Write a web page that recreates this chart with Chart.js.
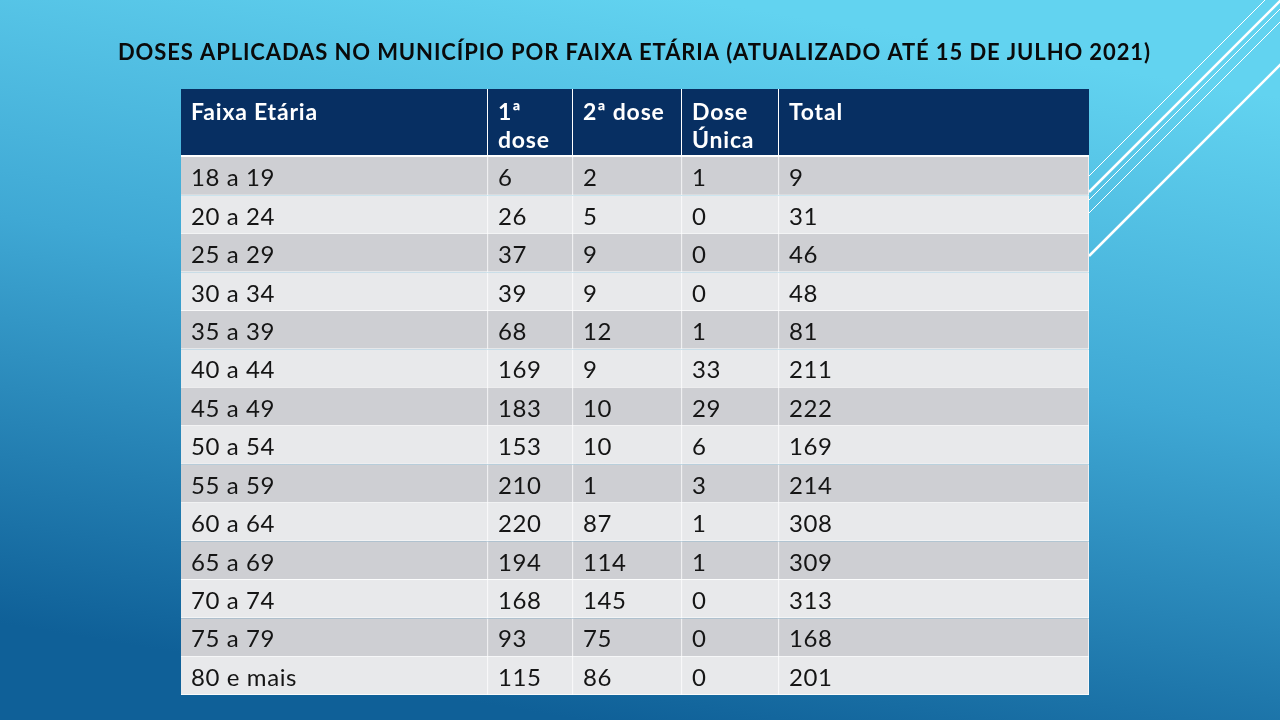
<!DOCTYPE html>
<html lang="pt">
<head>
    <meta charset="UTF-8">
    <title>Doses aplicadas por faixa etária</title>
    <script src="https://cdn.jsdelivr.net/npm/chart.js"></script>
    <style>
        html, body { margin: 0; padding: 0; background: #3aa5d2; }
        canvas { display: block; }
    </style>
</head>
<body>
    <canvas id="tabela" width="1280" height="720"></canvas>
    <script>
        // dados da tabela
        const faixas = ['18 a 19', '20 a 24', '25 a 29', '30 a 34', '35 a 39', '40 a 44', '45 a 49',
            '50 a 54', '55 a 59', '60 a 64', '65 a 69', '70 a 74', '75 a 79', '80 e mais'];
        const dose1 = [6, 26, 37, 39, 68, 169, 183, 153, 210, 220, 194, 168, 93, 115];
        const dose2 = [2, 5, 9, 9, 12, 9, 10, 10, 1, 87, 114, 145, 75, 86];
        const doseUnica = [1, 0, 0, 0, 1, 33, 29, 6, 3, 1, 1, 0, 0, 0];
        const total = [9, 31, 46, 48, 81, 211, 222, 169, 214, 308, 309, 313, 168, 201];
        const cabecalho = [['Faixa Etária'], ['1ª', 'dose'], ['2ª dose'], ['Dose', 'Única'], ['Total']];
        const titulo = 'DOSES APLICADAS NO MUNICÍPIO POR FAIXA ETÁRIA (ATUALIZADO ATÉ 15 DE JULHO 2021)';

        // largura das colunas (em unidades da escala x)
        const larguras = [307, 85, 109, 97, 310];
        const inicios = larguras.map((w, i) => larguras.slice(0, i).reduce((a, b) => a + b, 0));
        const colunas = [faixas, dose1, dose2, doseUnica, total];

        const corEscura = '#cecfd3';
        const corClara = '#e8e9eb';
        const fonte = 'Lato';

        const fundo = {
            id: 'fundo',
            beforeDraw(chart) {
                const ctx = chart.ctx;
                const g = ctx.createLinearGradient(700, 0, 580, 720);
                g.addColorStop(0, '#62d3f0');
                g.addColorStop(0.45, '#3fa8d4');
                g.addColorStop(1, '#0f6098');
                ctx.save();
                ctx.fillStyle = g;
                ctx.fillRect(0, 0, chart.width, chart.height);
                // linhas decorativas (partem da borda direita da tabela)
                ctx.strokeStyle = '#ffffff';
                [[176, 1], [192, 2.5], [200, 1], [213, 1], [256, 2.5]].forEach(([y0, w]) => {
                    ctx.lineWidth = w;
                    ctx.beginPath();
                    ctx.moveTo(1089, y0);
                    ctx.lineTo(1400, y0 - 311);
                    ctx.stroke();
                });
                ctx.restore();
            }
        };

        const textos = {
            id: 'textos',
            afterDatasetsDraw(chart) {
                const ctx = chart.ctx;
                const x = chart.scales.x;
                const y = chart.scales.y;
                const topo = chart.chartArea.top;
                ctx.save();
                // título
                ctx.font = 'bold 22px ' + fonte;
                ctx.fillStyle = '#0a0a0a';
                ctx.textBaseline = 'alphabetic';
                const w = ctx.measureText(titulo).width;
                ctx.letterSpacing = Math.max(0, (1032 - w) / (titulo.length - 1)) + 'px';
                ctx.textAlign = 'left';
                ctx.fillText(titulo, 118, 60);
                ctx.letterSpacing = '0px';

                // cabeçalho
                ctx.fillStyle = '#072f62';
                ctx.fillRect(x.left, topo - 68, x.right - x.left, 66);
                ctx.fillStyle = '#ffffff';
                ctx.fillRect(x.left, topo - 2, x.right - x.left, 2);
                ctx.strokeStyle = '#ffffff';
                ctx.lineWidth = 1;
                inicios.slice(1).forEach(v => {
                    const px = Math.round(x.getPixelForValue(v)) - 0.5;
                    ctx.beginPath();
                    ctx.moveTo(px, topo - 68);
                    ctx.lineTo(px, topo);
                    ctx.stroke();
                });
                ctx.font = 'bold 23px ' + fonte;
                ctx.letterSpacing = '0.8px';
                cabecalho.forEach((linhas, j) => {
                    const px = x.getPixelForValue(inicios[j]) + 10;
                    linhas.forEach((t, k) => ctx.fillText(t, px, topo - 37 + k * 28));
                });
                // células
                ctx.fillStyle = '#151515';
                ctx.font = '24px ' + fonte;
                ctx.letterSpacing = '0.6px';
                faixas.forEach((f, i) => {
                    const py = y.getPixelForValue(i);
                    colunas.forEach((col, j) => {
                        ctx.fillText(String(col[i]), x.getPixelForValue(inicios[j]) + 10, py + 10);
                    });
                });
                ctx.restore();
            }
        };

        const cores = faixas.map((f, i) => i % 2 === 0 ? corEscura : corClara);

        const datasets = larguras.map((w, j) => ({
            label: cabecalho[j].join(' '),
            data: faixas.map(() => [inicios[j], inicios[j] + w]),
            backgroundColor: cores,
            borderColor: '#ffffff',
            borderWidth: { top: 0, left: 0, right: 1, bottom: 1 },
            borderSkipped: false,
            barPercentage: 1,
            categoryPercentage: 1
        }));

        new Chart(document.getElementById('tabela'), {
            type: 'bar',
            data: { labels: faixas, datasets: datasets },
            options: {
                responsive: false,
                animation: false,
                indexAxis: 'y',
                layout: { padding: { left: 181, right: 191, top: 157, bottom: 25 } },
                scales: {
                    x: { display: false, min: 0, max: 908 },
                    y: { display: false, stacked: true }
                },
                plugins: {
                    legend: { display: false },
                    tooltip: { enabled: false },
                    title: { display: false }
                }
            },
            plugins: [fundo, textos]
        });
    </script>
</body>
</html>
